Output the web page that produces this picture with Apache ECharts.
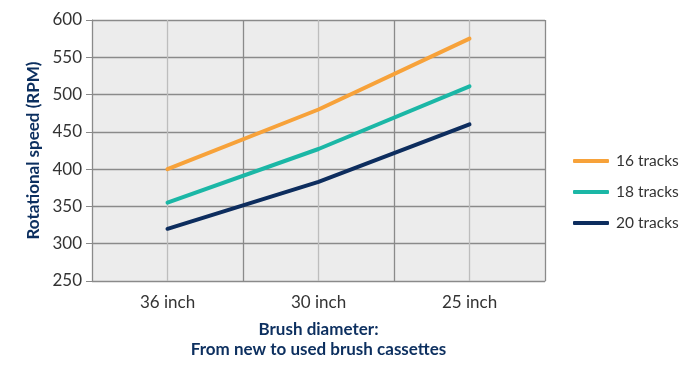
<!DOCTYPE html>
<html>
<head>
<meta charset="utf-8">
<script src="https://cdn.jsdelivr.net/npm/echarts@6/dist/echarts.min.js"></script>
<style>html,body{margin:0;padding:0;background:#fff}#c{width:692px;height:384px}</style>
</head>
<body>
<div id="c"></div>
<script>
var categories = ['36 inch', '30 inch', '25 inch'];
var seriesNames = ['16 tracks', '18 tracks', '20 tracks'];
var tracks16 = [400, 480, 575];
var tracks18 = [355, 427, 511];
var tracks20 = [320, 383, 460];
var yTicks = { min: 250, max: 600, step: 50 };

var colors = ['#f7a23a', '#1bb7a6', '#0d2d5e'];
var navy = '#0c2f5f';
var font = 'Lato';

var chart = echarts.init(document.getElementById('c'), null, { renderer: 'canvas' });
var values = [tracks16, tracks18, tracks20];
chart.setOption({
  animation: false,
  textStyle: { fontFamily: font },
  grid: { left: 92, right: 147, top: 20, bottom: 103, show: true, backgroundColor: '#ececec', borderWidth: 0 },
  legend: {
    orient: 'vertical', left: 568, top: 148, itemWidth: 36, itemHeight: 4, itemGap: 15,
    icon: 'roundRect',
    textStyle: { fontSize: 15.5, color: '#333', fontFamily: font, padding: [0, 0, 0, 2] },
    data: seriesNames
  },
  xAxis: [{
    type: 'category', data: categories, boundaryGap: true,
    axisLine: { lineStyle: { color: '#8a8a8a', width: 1 } },
    axisTick: { length: 6, lineStyle: { color: '#8a8a8a' } },
    axisLabel: { fontSize: 17, color: '#333', margin: 13 },
    splitLine: { show: false },
    name: 'Brush diameter:\nFrom new to used brush cassettes',
    nameLocation: 'middle', nameGap: 39,
    nameTextStyle: { fontSize: 17, fontWeight: 'bold', color: navy, lineHeight: 20 }
  }, {
    type: 'value', min: 0, max: 6, interval: 1, position: 'bottom',
    axisLine: { show: false }, axisTick: { show: false }, axisLabel: { show: false },
    splitLine: { show: true, lineStyle: { color: ['#8a8a8a', '#bdbdbd'], width: 1.3 } }
  }],
  yAxis: {
    type: 'value', min: yTicks.min, max: yTicks.max, interval: yTicks.step,
    axisLine: { show: true, lineStyle: { color: '#8a8a8a' } },
    axisTick: { show: true, length: 6, lineStyle: { color: '#8a8a8a' } },
    axisLabel: { fontSize: 17, color: '#333', margin: 10 },
    splitLine: { lineStyle: { color: '#8a8a8a', width: 1.3 } },
    name: 'Rotational speed (RPM)', nameLocation: 'middle', nameGap: 50,
    nameTextStyle: { fontSize: 17, fontWeight: 'bold', color: navy }
  },
  series: seriesNames.map(function (n, i) {
    return {
      name: n, type: 'line', data: values[i], xAxisIndex: 0,
      showSymbol: false, symbol: 'none',
      lineStyle: { width: 4, color: colors[i], cap: 'round' },
      itemStyle: { color: colors[i] }
    };
  })
});
</script>
</body>
</html>
